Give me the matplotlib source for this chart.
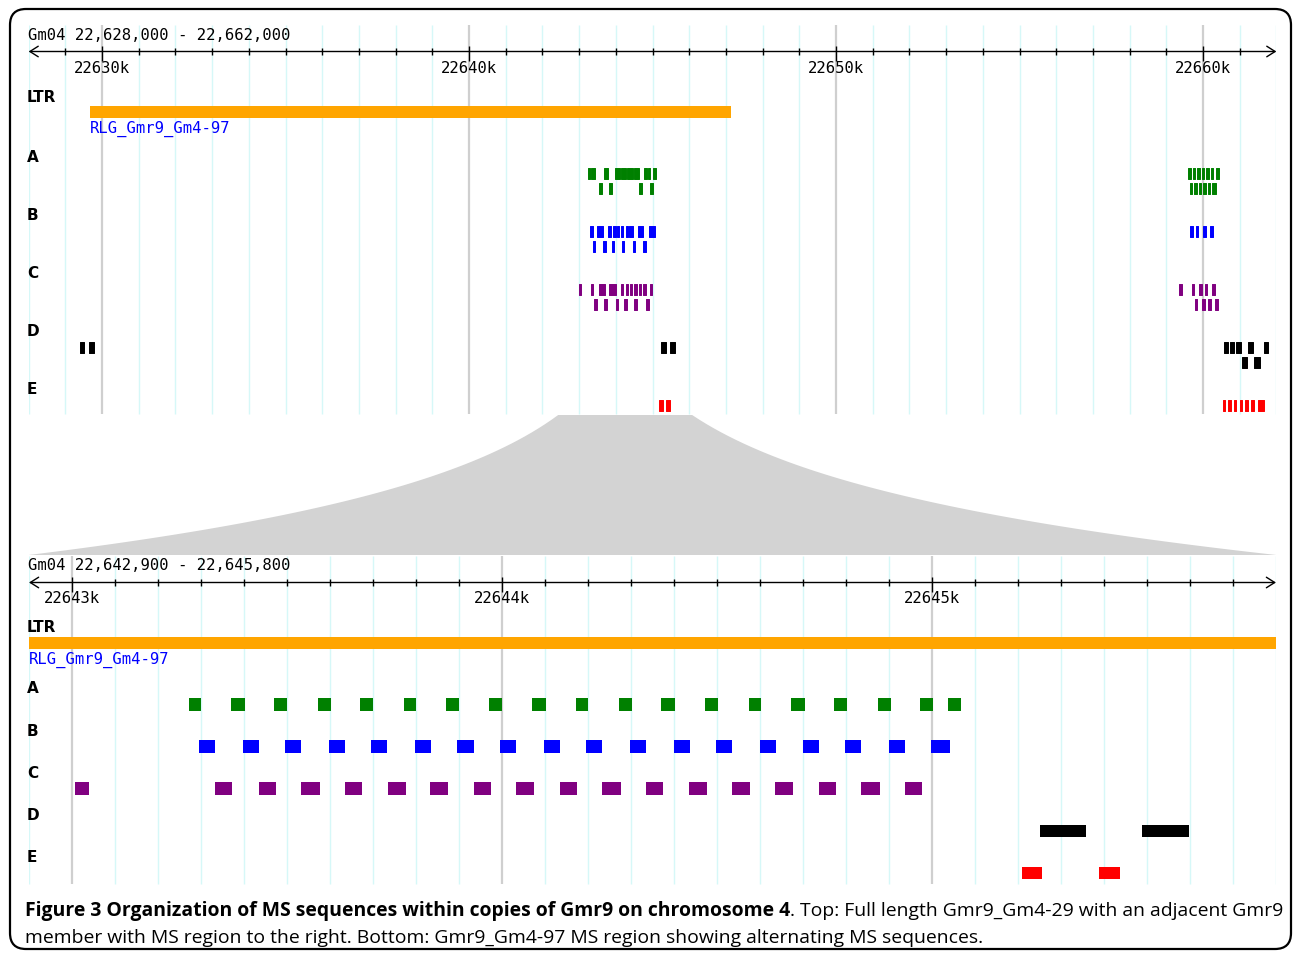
import numpy as np
import matplotlib
matplotlib.use("Agg")
import matplotlib.pyplot as plt
from matplotlib.patches import FancyBboxPatch, Polygon
from matplotlib import font_manager

# views (bp)
TOP_VIEW = (22628000, 22662000)
BOT_VIEW = (22642900, 22645800)
CHROM = "Gm04"

# LTR element
LTR = (22629673, 22647140)
LTR_NAME = "RLG_Gmr9_Gm4-97"

# top panel features, per track and row (start, end)
top_A1 = [(22643243, 22643297), (22643324, 22643433), (22643678, 22643787), (22643978, 22644114),
          (22644141, 22644278), (22644305, 22644468), (22644495, 22644631), (22644768, 22644849),
          (22644877, 22644931), (22645013, 22645095),
          (22659592, 22659673), (22659728, 22659782), (22659837, 22659918), (22659973, 22660027),
          (22660082, 22660163), (22660218, 22660272), (22660354, 22660436)]
top_A2 = [(22643542, 22643624), (22643815, 22643896), (22644631, 22644713), (22644931, 22645013),
          (22659646, 22659700), (22659755, 22659837), (22659891, 22659946), (22660000, 22660082),
          (22660136, 22660191), (22660245, 22660354)]
top_B1 = [(22643297, 22643379), (22643487, 22643651), (22643787, 22643869), (22643924, 22644005),
          (22644032, 22644087), (22644141, 22644196), (22644278, 22644332), (22644359, 22644468),
          (22644605, 22644741), (22644904, 22645067),
          (22659646, 22659728), (22659809, 22659864), (22660000, 22660082), (22660191, 22660272)]
top_B2 = [(22643379, 22643433), (22643651, 22643733), (22643896, 22643951), (22644169, 22644223),
          (22644468, 22644523), (22644741, 22644822)]
top_C1 = [(22642997, 22643052), (22643324, 22643379), (22643542, 22643706), (22643815, 22644005),
          (22644141, 22644196), (22644278, 22644332), (22644387, 22644441), (22644495, 22644577),
          (22644631, 22644686), (22644741, 22644822), (22644931, 22644986),
          (22659346, 22659428), (22659700, 22659755), (22659891, 22659973), (22660054, 22660109),
          (22660245, 22660327)]
top_C2 = [(22643406, 22643487), (22643678, 22643760), (22644005, 22644060), (22644223, 22644305),
          (22644495, 22644577), (22644822, 22644904),
          (22659782, 22659837), (22659973, 22660054), (22660136, 22660218), (22660327, 22660409)]
top_D1 = [(22629401, 22629510), (22629646, 22629782), (22645231, 22645367), (22645476, 22645612),
          (22660572, 22660681), (22660736, 22660845), (22660899, 22661036), (22661226, 22661363),
          (22661662, 22661771)]
top_D2 = [(22661063, 22661199), (22661390, 22661553)]
top_E1 = [(22645177, 22645286), (22645367, 22645476),
          (22660545, 22660600), (22660681, 22660763), (22660845, 22660899), (22661008, 22661063),
          (22661145, 22661226), (22661308, 22661390), (22661499, 22661662)]

# bottom panel features
bot_A = [(22643272, 22643300), (22643370, 22643402), (22643470, 22643500), (22643572, 22643602),
         (22643670, 22643700), (22643772, 22643800), (22643870, 22643900), (22643970, 22644000),
         (22644070, 22644102), (22644172, 22644200), (22644272, 22644302), (22644370, 22644402),
         (22644472, 22644502), (22644574, 22644602), (22644672, 22644705), (22644772, 22644802),
         (22644874, 22644905), (22644972, 22645002), (22645037, 22645067)]
bot_B = [(22643295, 22643333), (22643398, 22643435), (22643495, 22643533), (22643598, 22643635),
         (22643695, 22643733), (22643798, 22643835), (22643895, 22643935), (22643995, 22644033),
         (22644098, 22644135), (22644195, 22644233), (22644298, 22644335), (22644400, 22644437),
         (22644498, 22644535), (22644600, 22644637), (22644700, 22644737), (22644798, 22644835),
         (22644900, 22644937), (22644998, 22645042)]
bot_C = [(22643007, 22643040), (22643333, 22643372), (22643435, 22643474), (22643533, 22643577),
         (22643635, 22643674), (22643735, 22643777), (22643833, 22643874), (22643935, 22643974),
         (22644033, 22644074), (22644135, 22644174), (22644233, 22644277), (22644335, 22644374),
         (22644435, 22644477), (22644535, 22644577), (22644635, 22644677), (22644737, 22644777),
         (22644835, 22644879), (22644937, 22644977)]
bot_D = [(22645251, 22645358), (22645488, 22645598)]
bot_E = [(22645209, 22645256), (22645388, 22645437)]

TRACKS = ["A", "B", "C", "D", "E"]
COLORS = {"A": "#008000", "B": "#0000ff", "C": "#800080", "D": "#000000", "E": "#ff0000"}
ORANGE = "#ffa500"

# zoom-box top edge on the top scale
ZOOM_TOP = (22642430, 22646080)

CAPTION_BOLD = "Figure 3 Organization of MS sequences within copies of Gmr9 on chromosome 4"
CAPTION_1 = ". Top: Full length Gmr9_Gm4-29 with an adjacent Gmr9"
CAPTION_2 = "member with MS region to the right. Bottom: Gmr9_Gm4-97 MS region showing alternating MS sequences."

MONO = "DejaVu Sans Mono"
names = {f.name for f in font_manager.fontManager.ttflist}
CAP_FONT = "Liberation Sans Narrow" if "Liberation Sans Narrow" in names else "Open Sans"

W, H = 1293, 954
fig = plt.figure(figsize=(W / 100, H / 100), dpi=100)


def px_axes(x0, x1, y0, y1):
    ax = fig.add_axes([x0 / W, 1 - y1 / H, (x1 - x0) / W, (y1 - y0) / H])
    ax.set_axis_off()
    ax.set_ylim(y1, y0)
    return ax


# overlay axes in pixel units for frame, titles and labels
bg = px_axes(0, W, 0, H)
bg.set_xlim(0, W)
bg.set_zorder(10)
bg.patch.set_visible(False)

# outer frame
bg.add_patch(FancyBboxPatch((10, 10), 1281, 940, boxstyle="round,pad=0,rounding_size=16",
                            fc="none", ec="black", lw=1.6))


def bars(ax, feats, y, h, color, lw=0):
    ax.broken_barh([(s, e - s) for s, e in feats], (y, h), facecolors=color,
                   edgecolor=color if lw else "none", lw=lw)


def panel(ax, view, minor, major, grid_y, ruler_y, title_y, lab_y):
    ax.set_xlim(*view)
    g = np.arange(view[0], view[1] + 1, minor)
    cyan = [x for x in g if x % major]
    gray = [x for x in g if x % major == 0]
    ax.vlines(cyan, *grid_y, colors="#d6f8f8", lw=1, zorder=0)
    ax.vlines(gray, *grid_y, colors="#cfcfcf", lw=1.6, zorder=0)
    ax.annotate("", xy=(view[1], ruler_y), xytext=(view[0], ruler_y),
                arrowprops=dict(arrowstyle="<->,head_length=0.6,head_width=0.38",
                                lw=1.0, color="black", shrinkA=0, shrinkB=0))
    inner = g[1:-1]
    ax.vlines([x for x in inner if x % major], ruler_y - 3.5, ruler_y + 3.5, colors="black", lw=1)
    ax.vlines([x for x in inner if x % major == 0], ruler_y - 5.5, ruler_y + 9.5, colors="black", lw=1)
    for x in inner:
        if x % major == 0:
            ax.text(x, lab_y, f"{x // 1000}k", ha="center", va="center", family=MONO, size=11.2,
                    zorder=5)
    bg.text(28, title_y, f"{CHROM} {view[0]:,} - {view[1]:,}", ha="left", va="center",
            family=MONO, size=11.2)


# ---- top panel
top = px_axes(28.6, 1276.4, 20, 416)
panel(top, TOP_VIEW, 1000, 10000, (26, 415), 52.5, 35, 69)
bars(top, [LTR], 107, 12, ORANGE)
top.text(max(LTR[0], TOP_VIEW[0]), 129, LTR_NAME, color="#0000ff", family=MONO, size=11.2,
         ha="left", va="center", zorder=5)
top_rows = {"A": [top_A1, top_A2], "B": [top_B1, top_B2], "C": [top_C1, top_C2],
            "D": [top_D1, top_D2], "E": [top_E1]}
bg.text(27, 97, "LTR", fontweight="bold", size=11, ha="left", va="center")
for i, t in enumerate(TRACKS):
    y0 = 158 + 58 * i
    bg.text(27, y0, t, fontweight="bold", size=11, ha="left", va="center")
    for j, row in enumerate(top_rows[t]):
        bars(top, row, y0 + 10.5 + 15 * j, 11, COLORS[t], lw=0.7)

# ---- zoom connector
mid = px_axes(28.6, 1276.4, 416, 556)
mid.set_xlim(*TOP_VIEW)
s = np.linspace(0, 1, 80)
yy = 416 + 140 * np.log1p(5 * s) / np.log(6)
xl = ZOOM_TOP[0] + (TOP_VIEW[0] - ZOOM_TOP[0]) * s
xr = ZOOM_TOP[1] + (TOP_VIEW[1] - ZOOM_TOP[1]) * s
poly = np.vstack([np.column_stack([xl[::-1], yy[::-1]]), np.column_stack([xr, yy])])
mid.add_patch(Polygon(poly, closed=True, fc="#d3d3d3", ec="none"))

# ---- bottom panel
bot = px_axes(29, 1276, 550, 886)
panel(bot, BOT_VIEW, 100, 1000, (557, 885), 583.5, 566, 599)
bars(bot, [LTR], 638, 12, ORANGE)
bot.text(max(LTR[0], BOT_VIEW[0]), 660, LTR_NAME, color="#0000ff", family=MONO, size=11.2,
         ha="left", va="center", zorder=5)
bot_rows = {"A": bot_A, "B": bot_B, "C": bot_C, "D": bot_D, "E": bot_E}
bg.text(27, 628, "LTR", fontweight="bold", size=11, ha="left", va="center")
for i, t in enumerate(TRACKS):
    y0 = 689 + 42.2 * i
    bg.text(27, y0, t, fontweight="bold", size=11, ha="left", va="center")
    h = 13 if t in "ABC" else 12
    bars(bot, bot_rows[t], y0 + 10, h, COLORS[t])

# ---- caption
r = fig.canvas.get_renderer()
size = 12
t1 = bg.text(25, 916, CAPTION_BOLD, fontweight="bold", family=CAP_FONT, size=size, va="baseline")
t2 = bg.text(25, 916, CAPTION_1, family=CAP_FONT, size=size, va="baseline")
total = t1.get_window_extent(r).width + t2.get_window_extent(r).width
size = size * 1253 / total
t1.set_size(size)
t2.set_size(size)
t2.set_x(25 + t1.get_window_extent(r).width)
bg.text(25, 943, CAPTION_2, family=CAP_FONT, size=size, va="baseline")

fig.savefig("out.png", dpi=100)
